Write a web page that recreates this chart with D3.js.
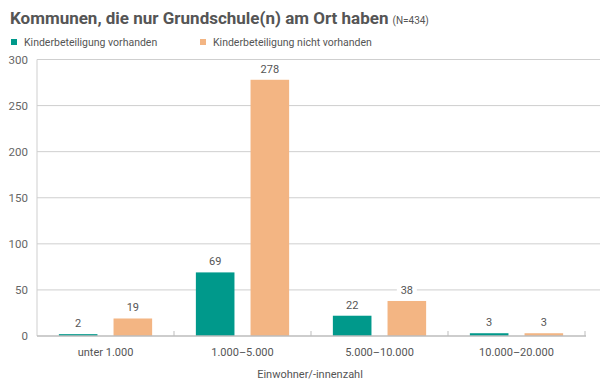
<!DOCTYPE html>
<html><head><meta charset="utf-8">
<script src="https://cdn.jsdelivr.net/npm/d3@7"></script>
<style>body{margin:0;background:#fff;} svg{display:block;}</style>
</head><body>
<script>
const categories = ["unter 1.000", "1.000–5.000", "5.000–10.000", "10.000–20.000"];
const seriesNames = ["Kinderbeteiligung vorhanden", "Kinderbeteiligung nicht vorhanden"];
const vorhanden = [2, 69, 22, 3];
const nichtVorhanden = [19, 278, 38, 3];
const yTicks = [0, 50, 100, 150, 200, 250, 300];
const colors = ["#00998b", "#f3b583"];

const W = 600, H = 384;
const m = {left: 37, right: 585, top: 59.5, bottom: 336};
const svg = d3.select("body").append("svg").attr("width", W).attr("height", H)
  .style("font-family", "Roboto, 'Open Sans', sans-serif");

const x = d3.scaleBand().domain(categories).range([m.left, m.right]).paddingInner(0).paddingOuter(0);
const xs = d3.scaleBand().domain([0,1]).range([0, x.bandwidth()]).paddingInner(0.294).paddingOuter(0.40);
const y = d3.scaleLinear().domain([0, 300]).range([m.bottom, m.top]);

// gridlines
svg.append("g").selectAll("line").data(yTicks.filter(d => d > 0)).join("line")
  .attr("x1", m.left).attr("x2", 600).attr("y1", d => y(d)).attr("y2", d => y(d))
  .attr("stroke", "#cfcfcf").attr("stroke-width", 1);
// left axis line
svg.append("line").attr("x1", m.left).attr("x2", m.left).attr("y1", m.top).attr("y2", m.bottom)
  .attr("stroke", "#cfcfcf");

// y tick labels
svg.append("g").selectAll("text").data(yTicks).join("text")
  .attr("x", 28).attr("y", d => y(d) + 4).attr("text-anchor", "end")
  .attr("font-size", 11.5).attr("fill", "#666").text(d => d);

const data = categories.map((c, i) => ({c, vals: [vorhanden[i], nichtVorhanden[i]]}));
const g = svg.append("g");
data.forEach(d => {
  d.vals.forEach((v, j) => {
    g.append("rect").attr("x", x(d.c) + xs(j)).attr("width", xs.bandwidth())
      .attr("y", y(v)).attr("height", y(0) - y(v)).attr("fill", colors[j]);
    const lx = x(d.c) + xs(j) + xs.bandwidth() / 2;
    g.append("rect").attr("x", lx - 10).attr("y", y(v) - 17).attr("width", 20).attr("height", 12).attr("fill", "#fff");
    g.append("text").attr("x", lx).attr("y", y(v) - 7).attr("text-anchor", "middle")
      .attr("font-size", 11).attr("fill", "#555").text(v);
  });
});

// baseline
svg.append("line").attr("x1", m.left).attr("x2", m.right + 1).attr("y1", y(0)).attr("y2", y(0))
  .attr("stroke", "#bdbdbd").attr("stroke-width", 1.5);
// x ticks between groups
svg.append("g").selectAll("line").data(categories).join("line")
  .attr("x1", d => x(d) + x.bandwidth()).attr("x2", d => x(d) + x.bandwidth())
  .attr("y1", y(0) - 5).attr("y2", y(0)).attr("stroke", "#bdbdbd");

// x labels
svg.append("g").selectAll("text").data(categories).join("text")
  .attr("x", d => x(d) + x.bandwidth() / 2).attr("y", 356).attr("text-anchor", "middle")
  .attr("font-size", 11).attr("fill", "#555").text(d => d);

svg.append("text").attr("x", 310).attr("y", 378).attr("text-anchor", "middle")
  .attr("font-size", 11).attr("fill", "#555").text("Einwohner/-innenzahl");

// title
const t = svg.append("text").attr("x", 10).attr("y", 24).attr("fill", "#555");
t.append("tspan").attr("font-size", 17).attr("font-weight", "bold").text("Kommunen, die nur Grundschule(n) am Ort haben");
t.append("tspan").attr("font-size", 10).attr("dx", 4).text("(N=434)");

// legend
const legX = [11, 200];
seriesNames.forEach((n, i) => {
  svg.append("rect").attr("x", legX[i]).attr("y", 39).attr("width", 6).attr("height", 6).attr("fill", colors[i]);
  svg.append("text").attr("x", legX[i] + 13).attr("y", 46).attr("font-size", 10.5).attr("fill", "#555").text(n);
});
</script>
</body></html>
